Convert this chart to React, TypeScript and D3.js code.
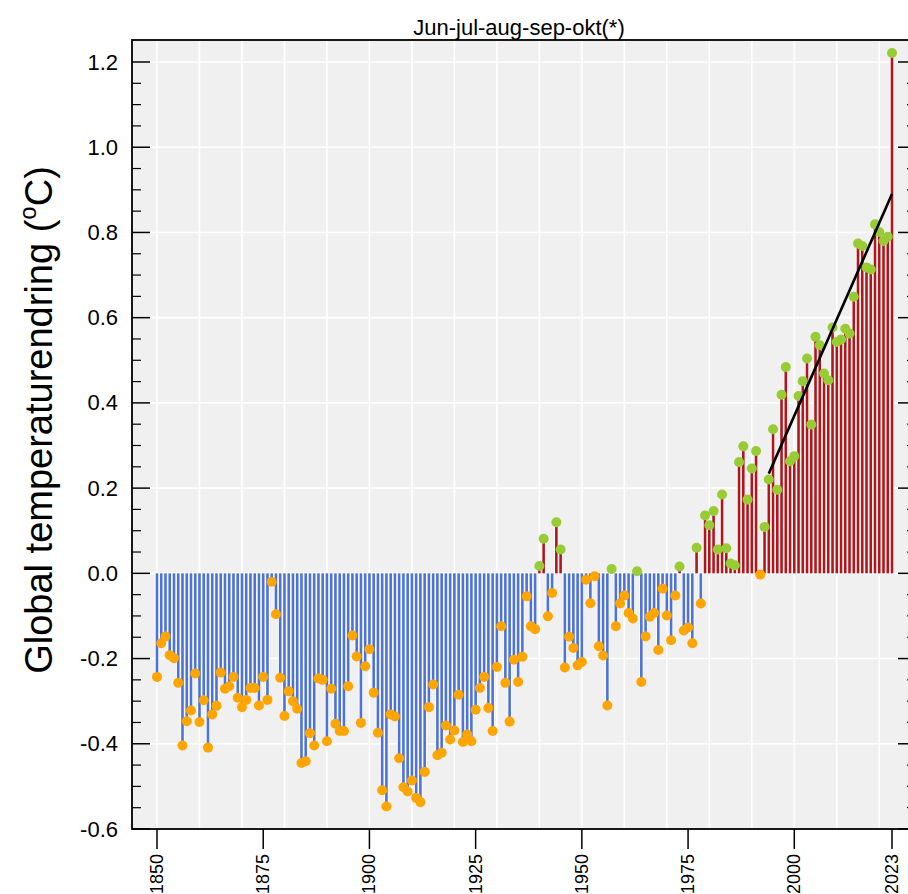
import React from "react";
import * as d3 from "d3";

const startYear = 1850;
const anomalies: number[] = [
  -0.243, -0.164, -0.148, -0.192, -0.199, -0.257, -0.404, -0.347, -0.322, -0.235,
  -0.349, -0.298, -0.409, -0.331, -0.311, -0.233, -0.271, -0.265, -0.243, -0.292,
  -0.314, -0.297, -0.269, -0.269, -0.310, -0.243, -0.297, -0.020, -0.096, -0.245,
  -0.335, -0.277, -0.300, -0.318, -0.445, -0.441, -0.375, -0.404, -0.247, -0.250,
  -0.394, -0.271, -0.353, -0.370, -0.370, -0.265, -0.146, -0.195, -0.351, -0.218,
  -0.178, -0.280, -0.374, -0.509, -0.547, -0.331, -0.336, -0.434, -0.502, -0.512,
  -0.486, -0.527, -0.537, -0.466, -0.314, -0.261, -0.427, -0.421, -0.357, -0.390,
  -0.369, -0.285, -0.396, -0.378, -0.394, -0.320, -0.269, -0.243, -0.316, -0.370,
  -0.220, -0.124, -0.257, -0.348, -0.203, -0.255, -0.196, -0.054, -0.124, -0.131,
  0.017, 0.081, -0.101, -0.046, 0.120, 0.056, -0.221, -0.149, -0.175, -0.216,
  -0.208, -0.015, -0.070, -0.007, -0.171, -0.193, -0.310, 0.010, -0.124, -0.071,
  -0.052, -0.093, -0.106, 0.005, -0.255, -0.148, -0.102, -0.093, -0.180, -0.036,
  -0.099, -0.157, -0.052, 0.016, -0.134, -0.127, -0.164, 0.060, -0.071, 0.136,
  0.113, 0.146, 0.056, 0.185, 0.059, 0.023, 0.019, 0.261, 0.298, 0.173,
  0.246, 0.287, -0.003, 0.109, 0.220, 0.338, 0.196, 0.419, 0.484, 0.263,
  0.275, 0.416, 0.451, 0.504, 0.349, 0.555, 0.535, 0.469, 0.453, 0.577,
  0.543, 0.549, 0.574, 0.563, 0.649, 0.774, 0.768, 0.718, 0.713, 0.819,
  0.801, 0.780, 0.790, 1.221,
];
const years: number[] = anomalies.map((_, i) => startYear + i);

const trendYears = [1994, 2023];
const trendValues = [0.234, 0.89];

const xTickYears = [1850, 1875, 1900, 1925, 1950, 1975, 2000, 2023];
const yTickValues = [-0.6, -0.4, -0.2, 0.0, 0.2, 0.4, 0.6, 0.8, 1.0, 1.2];
const gridYears = [1850, 1860, 1870, 1880, 1890, 1900, 1910, 1920, 1930, 1940, 1950, 1960, 1970, 1980, 1990, 2000, 2010, 2020];

const titleText = "Jun-jul-aug-sep-okt(*)";
const yTitleMain = "Global temperaturendring (";
const yTitleSup = "o";
const yTitleEnd = "C)";

const W = 908;
const H = 894;
const plotLeft = 132;
const plotRight = 916;
const plotTop = 40;
const plotBottom = 829;

const font = "'Liberation Sans', Arial, Helvetica, sans-serif";

export default function App() {
  const x = d3.scaleLinear().domain([1850, 2023]).range([157, 892]);
  const y = d3.scaleLinear().domain([-0.6, 1.2]).range([829, 62]);
  const band = x(1851) - x(1850);
  const barW = 2.6;
  const y0 = y(0);

  const minorTicks = d3.range(-0.6, 1.2001, 0.05).filter(
    (v) => Math.abs(Math.round(v * 5) - v * 5) > 0.01
  );

  const trendLine = d3
    .line<number>()
    .x((_, i) => x(trendYears[i]))
    .y((d) => y(d));

  return (
    <svg
      width={W}
      height={H}
      style={{ position: "absolute", left: 0, top: 0, background: "#ffffff" }}
      fontFamily={font}
    >
      <rect x={plotLeft} y={plotTop} width={plotRight - plotLeft} height={plotBottom - plotTop} fill="#f0f0f0" />
      {gridYears.map((g) => (
        <line key={"gx" + g} x1={x(g)} x2={x(g)} y1={plotTop} y2={plotBottom} stroke="#ffffff" strokeWidth={1.6} />
      ))}
      {yTickValues.map((v) => (
        <line key={"gy" + v} x1={plotLeft} x2={plotRight} y1={y(v)} y2={y(v)} stroke="#ffffff" strokeWidth={1.6} />
      ))}
      {/* bars */}
      {anomalies.map((v, i) => {
        const cx = x(years[i]);
        const top = Math.min(y(v), y0);
        const h = Math.abs(y(v) - y0);
        return (
          <g key={"b" + i}>
            <rect x={cx - band / 2} y={top} width={band} height={h} fill="#ffffff" />
            <rect x={cx - barW / 2} y={top} width={barW} height={h} fill={v >= 0 ? "#b3151b" : "#4d72d8"} />
          </g>
        );
      })}
      {/* dots */}
      {anomalies.map((v, i) => (
        <circle key={"c" + i} cx={x(years[i])} cy={y(v)} r={5} fill={v >= 0 ? "#98cc34" : "#ffa500"} />
      ))}
      <path d={trendLine(trendValues) || ""} stroke="#000000" strokeWidth={2.6} fill="none" />
      {/* frame */}
      <rect x={plotLeft} y={plotTop} width={plotRight - plotLeft} height={plotBottom - plotTop} fill="none" stroke="#000000" strokeWidth={1.8} />
      {/* y ticks */}
      {yTickValues.map((v) => (
        <g key={"yt" + v}>
          <line x1={plotLeft} x2={plotLeft + 18} y1={y(v)} y2={y(v)} stroke="#000" strokeWidth={1.5} />
          <line x1={plotRight - 18} x2={plotRight} y1={y(v)} y2={y(v)} stroke="#000" strokeWidth={1.5} />
          <text x={118} y={y(v)} textAnchor="end" dominantBaseline="central" fontSize={22} fill="#000">
            {v.toFixed(1)}
          </text>
        </g>
      ))}
      {minorTicks.map((v, i) => (
        <g key={"ym" + i}>
          <line x1={plotLeft} x2={plotLeft + 9} y1={y(v)} y2={y(v)} stroke="#000" strokeWidth={1.2} />
          <line x1={plotRight - 9} x2={plotRight} y1={y(v)} y2={y(v)} stroke="#000" strokeWidth={1.2} />
        </g>
      ))}
      {/* x ticks */}
      {xTickYears.map((yr) => (
        <g key={"xt" + yr}>
          <line x1={x(yr)} x2={x(yr)} y1={plotBottom} y2={plotBottom + 20} stroke="#000" strokeWidth={1.5} />
          <text
            transform={`translate(${x(yr)},${plotBottom + 25}) rotate(-90)`}
            textAnchor="end"
            dominantBaseline="central"
            fontSize={18}
            fill="#000"
          >
            {yr}
          </text>
        </g>
      ))}
      {/* title */}
      <text x={519} y={35} textAnchor="middle" fontSize={22} fill="#000">
        {titleText}
      </text>
      {/* y title */}
      <text transform={`translate(52,420) rotate(-90)`} textAnchor="middle" fontSize={38} fill="#000">
        {yTitleMain}
        <tspan fontSize={24} dy={-16}>{yTitleSup}</tspan>
        <tspan dy={16}>{yTitleEnd}</tspan>
      </text>
    </svg>
  );
}
